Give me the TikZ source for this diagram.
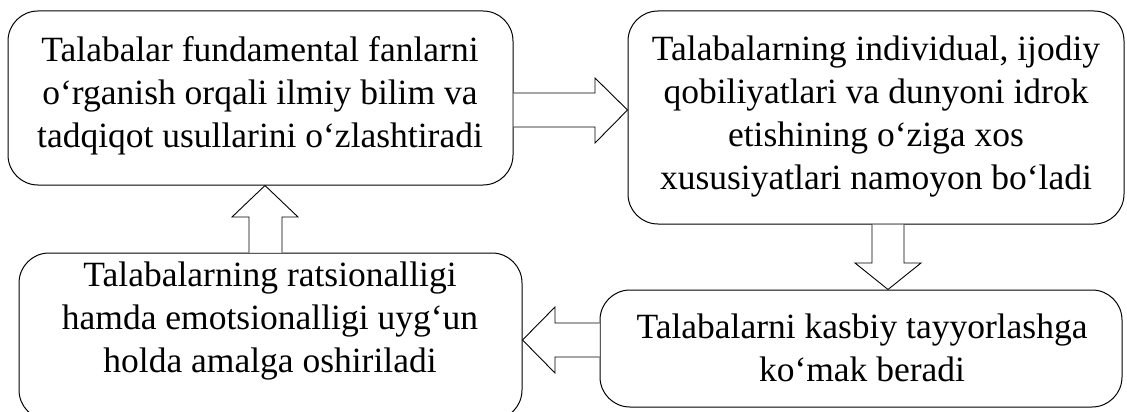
\documentclass[tikz,border=0pt]{standalone}
\usepackage{fontspec}
\setmainfont{Liberation Serif}
\usetikzlibrary{calc}
\tikzset{
  box/.style={draw=black, line width=1pt, rounded corners=30pt, inner sep=0pt},
  txt/.style={align=center, inner sep=0pt, font=\fontsize{35.5}{43}\selectfont},
  blockarrow/.style={draw=black, line width=0.9pt, fill=white, line join=miter}
}
\begin{document}
\begin{tikzpicture}[x=1pt,y=-1pt]
\useasboundingbox (0,0) rectangle (1127,412);
\node[box, minimum width=505pt, minimum height=174pt] (b1) at (260.5,98) {};
\node[box, minimum width=496pt, minimum height=213pt] (b2) at (876,117.5) {};
\node[box, minimum width=522pt, minimum height=117pt] (b3) at (861,348.5) {};
\node[box, minimum width=503pt, minimum height=167pt] (b4) at (270.5,336.5) {};
\node[txt] (t1) at (260,95.5) {Talabalar fundamental fanlarni\\o‘rganish orqali ilmiy bilim va\\tadqiqot usullarini o‘zlashtiradi};
\node[txt] (t2) at (876,117) {Talabalarning individual, ijodiy\\qobiliyatlari va dunyoni idrok\\etishining o‘ziga xos\\xususiyatlari namoyon bo‘ladi};
\node[txt] (t3) at (862,348) {Talabalarni kasbiy tayyorlashga\\ko‘mak beradi};
\node[txt] (t4) at (270,321.5) {Talabalarning ratsionalligi\\hamda emotsionalligi uyg‘un\\holda amalga oshiriladi};
% right arrow b1 -> b2
\draw[blockarrow] (b1.east |- 0,93) -- (595,93) -- (595,78) -- (b2.west |- 0,110) -- (595,143) -- (595,127) -- (b1.east |- 0,127);
% down arrow b2 -> b3
\draw[blockarrow] (872,0 |- b2.south) -- (872,263) -- (855,263) -- (888,0 |- b3.north) -- (921,263) -- (904,263) -- (904,0 |- b2.south);
% left arrow b3 -> b4
\draw[blockarrow] (b3.west |- 0,323) -- (555,323) -- (555,307) -- (b4.east |- 0,340) -- (555,373) -- (555,357) -- (b3.west |- 0,357);
% up arrow b4 -> b1
\draw[blockarrow] (249,0 |- b4.north) -- (249,217) -- (232,217) -- (265,0 |- b1.south) -- (298,217) -- (282,217) -- (282,0 |- b4.north);
\end{tikzpicture}
\end{document}
